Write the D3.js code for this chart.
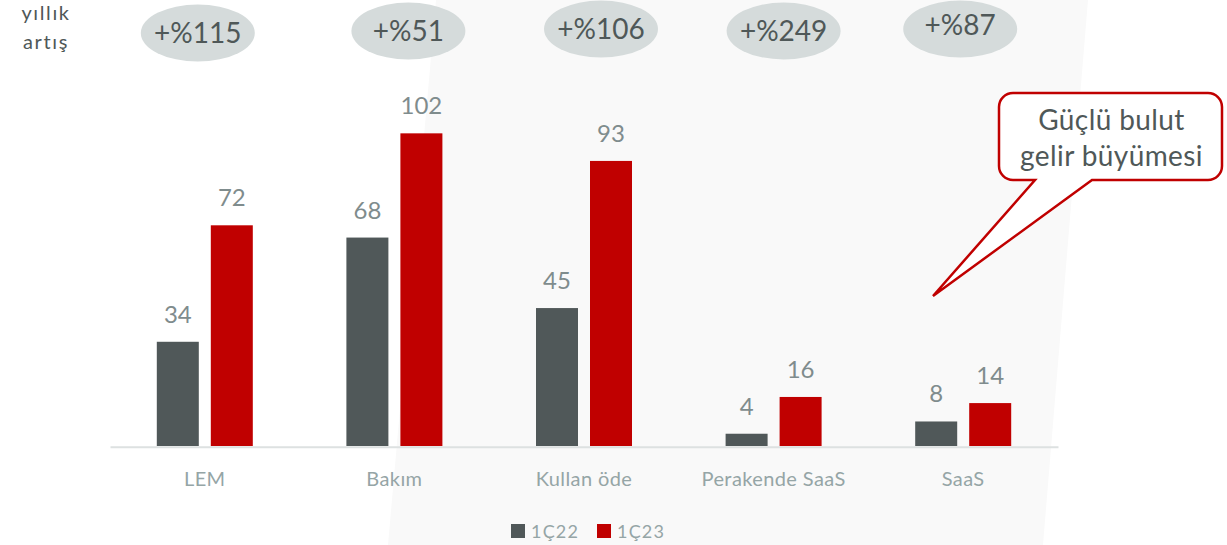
<!DOCTYPE html>
<html>
<head>
<meta charset="utf-8">
<script src="https://cdn.jsdelivr.net/npm/d3@7"></script>
<style>
  html, body { margin: 0; padding: 0; background: #ffffff; }
  svg { display: block; }
  text { font-family: Lato, "Open Sans", sans-serif; }
</style>
</head>
<body>
<svg id="chart" width="1227" height="545"></svg>
<script>
// ---- data ----
const categories = ["LEM", "Bakım", "Kullan öde", "Perakende SaaS", "SaaS"];
const seriesNames = ["1Ç22", "1Ç23"];
const values1Q22 = [34, 68, 45, 4, 8];
const values1Q23 = [72, 102, 93, 16, 14];
const growthLabels = ["+%115", "+%51", "+%106", "+%249", "+%87"];
const calloutLines = ["Güçlü bulut", "gelir büyümesi"];
const growthTitle = ["yıllık", "artış"];

// ---- layout ----
const W = 1227, H = 545;
const svg = d3.select("#chart");
const colors = ["#505859", "#c00000"];

const x0 = d3.scaleBand().domain(categories).range([110, 1058]).padding(0);
const x1 = d3.scaleBand().domain(seriesNames).range([0, 96]).paddingInner(12 / 54).paddingOuter(0);
const y = d3.scaleLinear().domain([0, 145.5]).range([446, 0]);

// background slanted panel
svg.append("path")
  .attr("d", "M436,0 L1088,0 L1043,545 L388,545 Z")
  .attr("fill", "#f9f9f9");

const rows = categories.map((c, i) => ({ cat: c, vals: [values1Q22[i], values1Q23[i]] }));

// baseline axis
const xAxis = d3.axisBottom(x0).tickSize(0).tickPadding(0).tickFormat("");
const axisG = svg.append("g").attr("transform", `translate(0,${y(0) + 0.75})`).call(xAxis);
axisG.select(".domain").attr("stroke", "#dde1e1").attr("stroke-width", 1.8);

// bars
const groups = svg.append("g").selectAll("g").data(rows).join("g")
  .attr("transform", d => `translate(${x0(d.cat) + x0.bandwidth() / 2 - 48},0)`);

groups.selectAll("rect").data(d => d.vals.map((v, j) => ({ v, s: seriesNames[j], j })))
  .join("rect")
  .attr("x", d => x1(d.s))
  .attr("width", x1.bandwidth())
  .attr("y", d => y(d.v))
  .attr("height", d => y(0) - y(d.v))
  .attr("fill", d => colors[d.j]);

groups.selectAll("text.val").data(d => d.vals.map((v, j) => ({ v, s: seriesNames[j], j })))
  .join("text")
  .attr("class", "val")
  .attr("x", d => x1(d.s) + x1.bandwidth() / 2)
  .attr("y", d => y(d.v) - 19)
  .attr("text-anchor", "middle")
  .attr("font-size", 24)
  .attr("fill", "#7f8c8d")
  .text(d => d.v);

// category labels
svg.append("g").selectAll("text").data(categories).join("text")
  .attr("x", d => x0(d) + x0.bandwidth() / 2)
  .attr("y", 486)
  .attr("text-anchor", "middle")
  .attr("font-size", 20)
  .attr("letter-spacing", 0.4)
  .attr("fill", "#95a5a6")
  .text(d => d);

// growth ellipses
const ellDx = [-7, 14, 17, 10, -3];
const ellCy = [33, 31, 29, 31, 29];
const ellTextDy = [0, 0, 0, 0, -4];
const eg = svg.append("g").selectAll("g").data(growthLabels).join("g")
  .attr("transform", (d, i) => `translate(${x0(categories[i]) + x0.bandwidth() / 2 + ellDx[i]},${ellCy[i]})`);
eg.append("ellipse").attr("rx", 57).attr("ry", 28.5).attr("fill", "#d5dbdb");
eg.append("text")
  .attr("text-anchor", "middle")
  .attr("y", (d, i) => 10 + ellTextDy[i])
  .attr("font-size", 28)
  .attr("fill", "#4f5858")
  .text(d => d);

// "yıllık artış" title
svg.append("g").selectAll("text").data(growthTitle).join("text")
  .attr("x", 46)
  .attr("y", (d, i) => 20 + i * 29)
  .attr("text-anchor", "middle")
  .attr("font-size", 20)
  .attr("letter-spacing", 1.6)
  .attr("fill", "#4f5858")
  .text(d => d);

// callout
const bx0 = 999, bx1 = 1222, by0 = 93, by1 = 180, r = 14;
const tipX = 933, tipY = 296, pL = 1035, pR = 1092;
const cp = d3.path();
cp.moveTo(bx0 + r, by0);
cp.lineTo(bx1 - r, by0);
cp.arcTo(bx1, by0, bx1, by0 + r, r);
cp.lineTo(bx1, by1 - r);
cp.arcTo(bx1, by1, bx1 - r, by1, r);
cp.lineTo(pR, by1);
cp.lineTo(tipX, tipY);
cp.lineTo(pL, by1);
cp.lineTo(bx0 + r, by1);
cp.arcTo(bx0, by1, bx0, by1 - r, r);
cp.lineTo(bx0, by0 + r);
cp.arcTo(bx0, by0, bx0 + r, by0, r);
cp.closePath();
svg.append("path").attr("d", cp.toString())
  .attr("fill", "#ffffff").attr("stroke", "#c00000").attr("stroke-width", 2.5)
  .attr("stroke-linejoin", "miter");

svg.append("g").selectAll("text").data(calloutLines).join("text")
  .attr("x", (bx0 + bx1) / 2 + 1)
  .attr("y", (d, i) => 130 + i * 36)
  .attr("text-anchor", "middle")
  .attr("font-size", 28)
  .attr("letter-spacing", 0.4)
  .attr("fill", "#4f5858")
  .text(d => d);

// legend
const legend = svg.append("g").selectAll("g").data(seriesNames).join("g")
  .attr("transform", (d, i) => `translate(${511 + i * 86},524)`);
legend.append("rect").attr("width", 14).attr("height", 14).attr("fill", (d, i) => colors[i]);
legend.append("text").attr("x", 20).attr("y", 13.5)
  .attr("font-size", 18).attr("letter-spacing", 1.2)
  .attr("fill", "#95a5a6").text(d => d);
</script>
</body>
</html>
